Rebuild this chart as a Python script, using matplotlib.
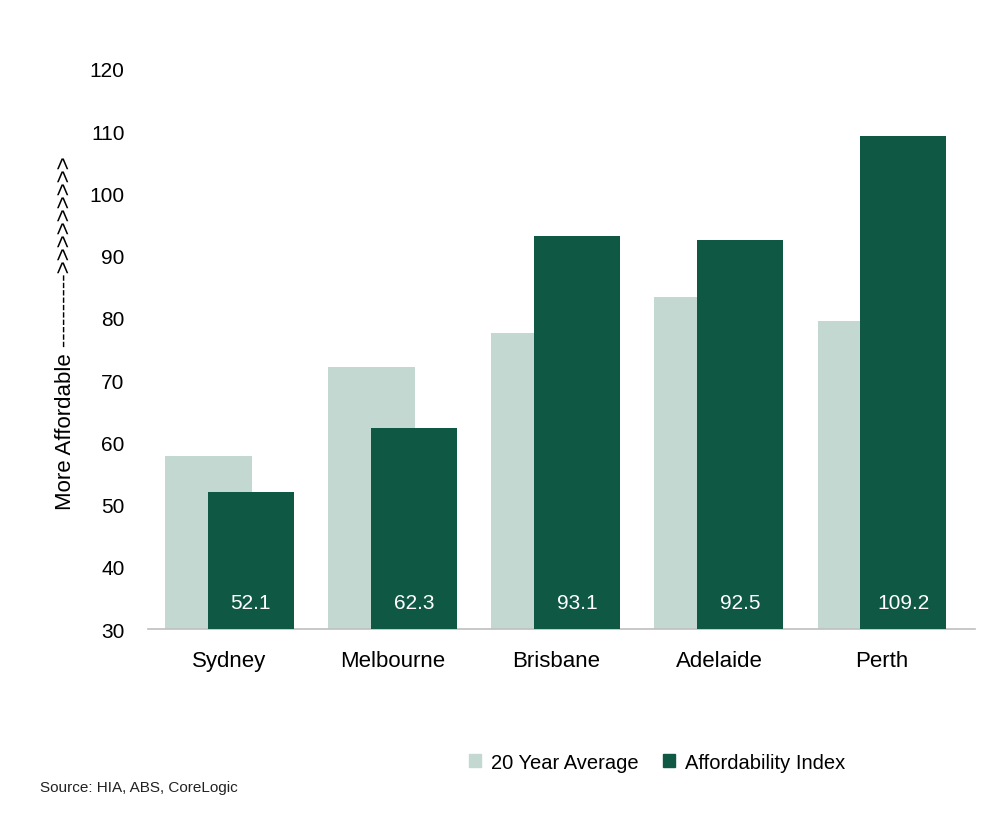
import matplotlib
matplotlib.use("Agg")
import matplotlib.pyplot as plt
from matplotlib.patches import Patch
import numpy as np

plt.rcParams['font.family'] = ['Liberation Sans', 'DejaVu Sans']

cities = ["Sydney", "Melbourne", "Brisbane", "Adelaide", "Perth"]
avg_20yr = [57.8, 72.1, 77.6, 83.4, 79.5]
afford_index = [52.1, 62.3, 93.1, 92.5, 109.2]
yticks = [30, 40, 50, 60, 70, 80, 90, 100, 110, 120]

light = "#c2d8d1"
dark = "#0f5843"

fig = plt.figure(figsize=(10, 8.28), dpi=100)
ax = fig.add_axes([0.148, 0.239, 0.827, 0.6765])

x = np.arange(len(cities))
w = 0.53
off = 0.13
ax.bar(x - off, [v - 30 for v in avg_20yr], width=w, bottom=30, color=light, zorder=2)
ax.bar(x + off, [v - 30 for v in afford_index], width=w, bottom=30, color=dark, zorder=3)

for xi, v in zip(x, afford_index):
    ax.text(xi + off, 34.2, f"{v:.1f}", ha="center", va="center",
            color="white", fontsize=15, zorder=4)

ax.set_ylim(30, 120)
ax.set_xlim(-0.5, 4.57)
ax.set_yticks(yticks)
ax.set_yticklabels([str(t) for t in yticks], fontsize=15)
ax.set_xticks(x)
ax.set_xticklabels(cities, fontsize=16)
ax.tick_params(axis="y", length=0, pad=17)
ax.tick_params(axis="x", length=0, pad=15)
for s in ["top", "right", "left"]:
    ax.spines[s].set_visible(False)
ax.spines["bottom"].set_color("#bfbfbf")
ax.spines["bottom"].set_linewidth(1.2)

fig.text(0.066, 0.597, "More Affordable ---------->>>>>>>>>", rotation=90,
         ha="center", va="center", fontsize=16)

handles = [Patch(color=light, label="20 Year Average"),
           Patch(color=dark, label="Affordability Index")]
fig.legend(handles=handles, loc="center", bbox_to_anchor=(0.657, 0.0785), ncol=2,
           frameon=False, fontsize=14.5, handlelength=0.6, handleheight=0.6,
           handletextpad=0.5, columnspacing=1.2)

fig.text(0.04, 0.048, "Source: HIA, ABS, CoreLogic", fontsize=11,
         ha="left", va="center", color="#222222")

fig.savefig("out.png", dpi=100)
